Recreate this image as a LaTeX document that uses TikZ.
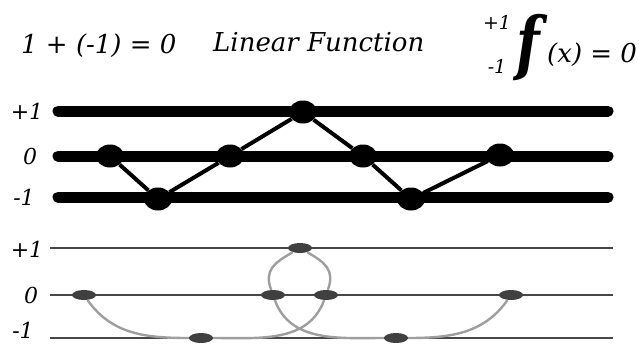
\documentclass[tikz,border=0pt]{standalone}
\usepackage{fontspec}
\setmainfont{DejaVu Serif}
\usetikzlibrary{shapes.geometric}

\tikzset{
  titletext/.style={font=\fontsize{26}{26}\selectfont\itshape, inner sep=0pt},
  limittext/.style={font=\fontsize{19}{19}\selectfont\itshape, inner sep=0pt},
  levellabel/.style={font=\fontsize{22}{22}\selectfont\itshape, inner sep=0pt},
  bigdot/.style={ellipse, fill=black, minimum width=28pt, minimum height=23pt,
                 inner sep=0pt},
  smalldot/.style={ellipse, fill=black!75, minimum width=24pt, minimum height=10pt,
                   inner sep=0pt},
}

\begin{document}
\begin{tikzpicture}[x=1pt,y=-1pt]

\colorlet{thinclr}{black!72}
\colorlet{curveclr}{black!38}

\useasboundingbox (0,0) rectangle (644,343);

% ---- (1) title row ---------------------------------------------
\node[titletext, anchor=base west] (sum)  at (21,53)  {1 + (-1) = 0};
\node[titletext, anchor=base west] (name) at (213,51) {Linear Function};
\node[font=\fontsize{70}{70}\selectfont\bfseries\itshape, inner sep=0pt]
      (fbig) at (528,48) {\scalebox{0.78}[1]{f}};
\node[limittext] (upper) at (497,22) {+1};
\node[limittext] (lower) at (497,66) {-1};
\node[titletext, anchor=base west] (fx) at (547,62) {(x) = 0};

% ---- (2) thick levels, linear zigzag ---------------------------
\foreach \lvl/\yy/\lx in {+1/111/27, 0/156/30, -1/197/24}{%
  \node[levellabel] at (\lx,\yy) {\lvl};
  \draw[line width=11pt, line cap=round] (58,\yy) -- (608,\yy);
}
\node[bigdot] (t1) at (110,156) {};
\node[bigdot] (t2) at (158,199) {};
\node[bigdot] (t3) at (230,156) {};
\node[bigdot] (t4) at (303,112) {};
\node[bigdot] (t5) at (363,156) {};
\node[bigdot] (t6) at (411,199) {};
\node[bigdot] (t7) at (500,155) {};
\draw[line width=4pt] (t1) -- (t2) -- (t3) -- (t4) -- (t5) -- (t6) -- (t7);

% ---- (3) thin levels, curved path with loop --------------------
\node[levellabel] at (27,249) {+1};
\node[levellabel] at (31,295) {0};
\node[levellabel, text depth=0pt, anchor=base] at (23,338) {-1};
\foreach \yy in {248,295,338}{%
  \draw[draw=thinclr, line width=2.6pt] (50,\yy) -- (613,\yy);
}
\node[smalldot] (b1) at (84,295)  {};
\node[smalldot] (b2) at (201,338) {};
\node[smalldot] (b3) at (273,295) {};
\node[smalldot] (b4) at (300,248) {};
\node[smalldot] (b5) at (326,295) {};
\node[smalldot] (b6) at (396,338) {};
\node[smalldot] (b7) at (511,295) {};
\draw[draw=curveclr, line width=2.4pt]
  (b1) to[out=-55, in=180] (b2)
       to[out=0, in=-110]  (b5)
       to[out=70, in=-30, looseness=1.25]  (b4)
       to[out=210, in=110, looseness=1.25] (b3)
       to[out=-70, in=180] (b6)
       to[out=0, in=-125]  (b7);

\end{tikzpicture}
\end{document}
